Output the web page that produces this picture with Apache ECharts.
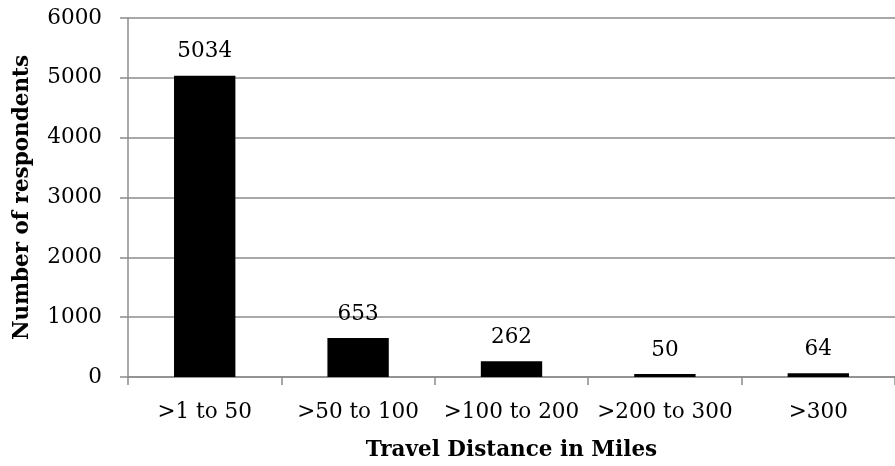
<!DOCTYPE html>
<html><head><meta charset="utf-8">
<script src="https://cdn.jsdelivr.net/npm/echarts@6/dist/echarts.min.js"></script>
<style>html,body{margin:0;padding:0;background:#fff}#c{width:895px;height:466px}</style>
</head><body><div id="c"></div>
<script>
const categories = ['>1 to 50', '>50 to 100', '>100 to 200', '>200 to 300', '>300'];
const respondents = [5034, 653, 262, 50, 64];
const yTicks = [0, 1000, 2000, 3000, 4000, 5000, 6000];
const xTitle = 'Travel Distance in Miles';
const yTitle = 'Number of respondents';

const FONT = 'DejaVu Serif';
const FS = 21.5;
const chart = echarts.init(document.getElementById('c'));
chart.setOption({
  animation: false,
  grid: { left: 128, right: -8, top: 18, bottom: 88, containLabel: false },
  xAxis: {
    type: 'category', data: categories,
    name: xTitle, nameLocation: 'middle', nameGap: 62,
    nameTextStyle: { fontFamily: FONT, fontWeight: 'bold', fontSize: FS, color: '#000' },
    axisLine: { lineStyle: { color: '#8c8c8c', width: 1.5 } },
    axisTick: { show: true, length: 8, lineStyle: { color: '#8c8c8c', width: 1.5 } },
    axisLabel: { interval: 0, fontFamily: FONT, fontSize: FS, color: '#000', margin: 24 }
  },
  yAxis: {
    type: 'value', min: yTicks[0], max: yTicks[yTicks.length - 1], interval: 1000,
    name: yTitle, nameLocation: 'middle', nameGap: 95, nameRotate: 90,
    nameTextStyle: { fontFamily: FONT, fontWeight: 'bold', fontSize: FS, color: '#000' },
    axisLine: { show: true, lineStyle: { color: '#8c8c8c', width: 1.5 } },
    axisTick: { show: true, length: 8, lineStyle: { color: '#8c8c8c', width: 1.5 } },
    splitLine: { show: true, lineStyle: { color: '#8c8c8c', width: 1.5 } },
    axisLabel: { fontFamily: FONT, fontSize: FS, color: '#000', margin: 26, formatter: v => String(v) }
  },
  series: [{
    type: 'bar', data: respondents, barWidth: '40%',
    itemStyle: { color: '#000' },
    label: { show: true, position: 'top', distance: 13, fontFamily: FONT, fontSize: FS, color: '#000' }
  }]
});
</script></body></html>
